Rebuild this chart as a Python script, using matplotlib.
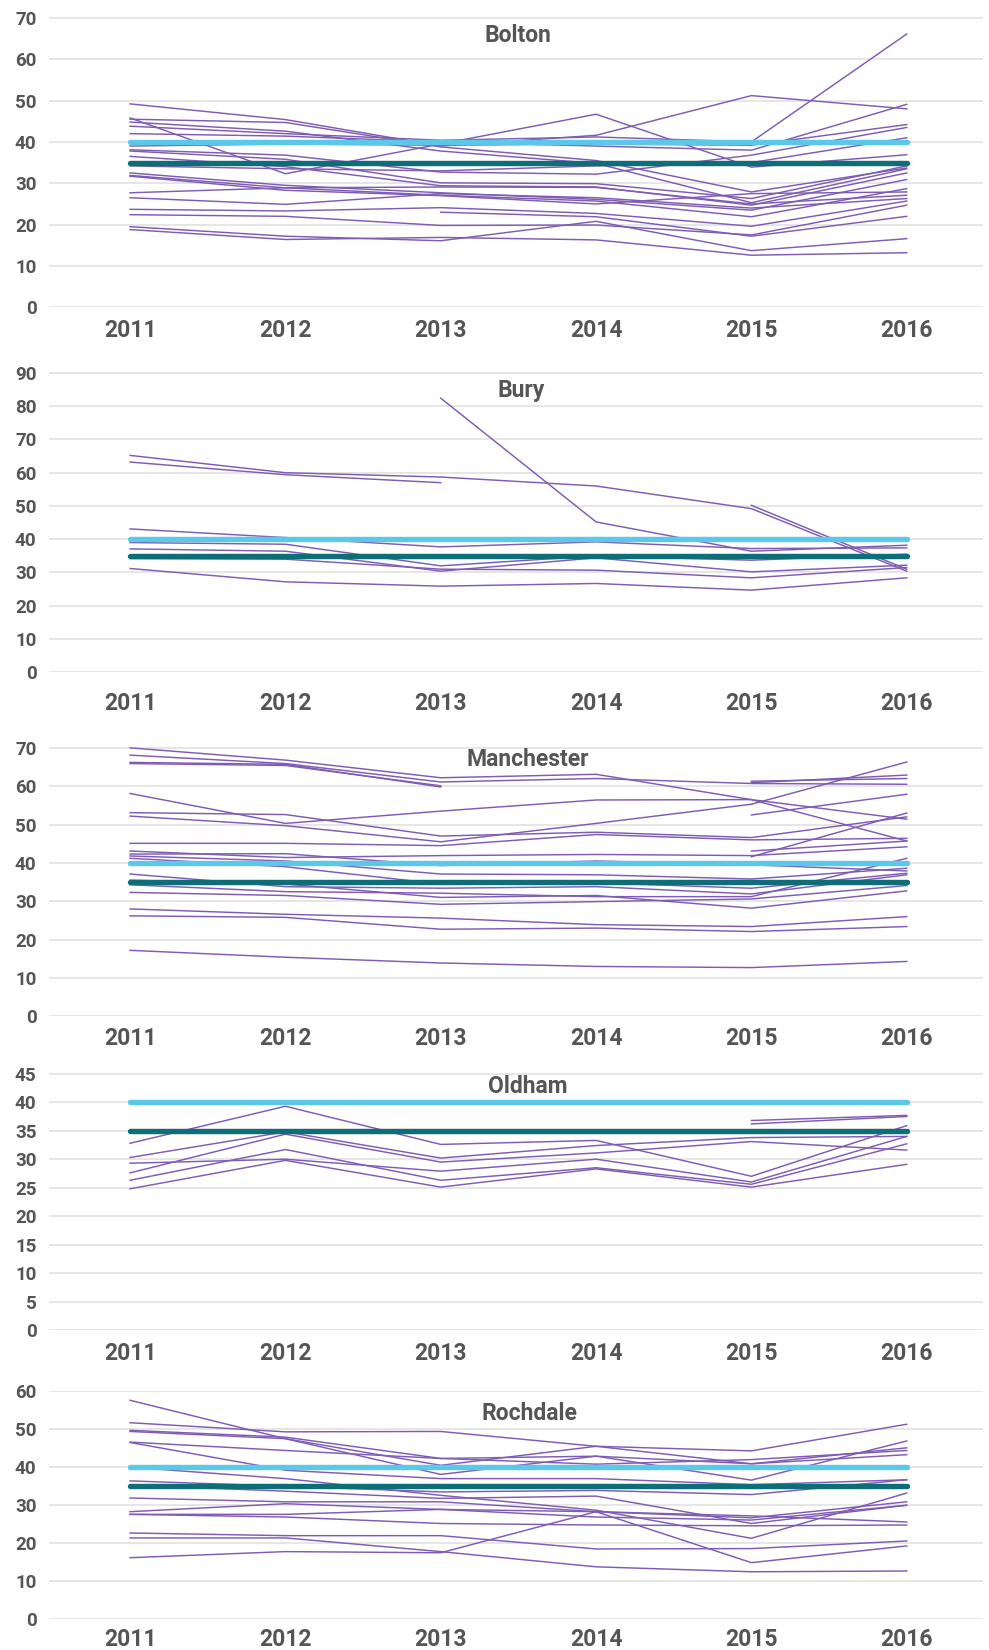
import numpy as np
import matplotlib
matplotlib.use("Agg")
import matplotlib.pyplot as plt

plt.rcParams["font.family"] = ["Roboto", "DejaVu Sans"]
plt.rcParams["font.weight"] = "bold"

nan = np.nan
years = [2011, 2012, 2013, 2014, 2015, 2016]
upper_level = 40
lower_level = 35

bolton = [
    [49.2, 45.4, 39.0, 41.6, 51.2, 48.0],
    [45.8, 32.3, 39.5, 46.7, 33.9, 36.9],
    [45.5, 44.7, 38.8, 35.5, 27.9, 33.7],
    [44.8, 42.6, 37.8, 34.8, 25.3, 33.5],
    [43.8, 42.0, 40.4, 41.2, 40.0, 66.1],
    [42.0, 41.4, 40.0, 39.0, 38.0, 49.1],
    [39.0, 39.5, 39.2, 39.5, 39.2, 44.2],
    [38.1, 36.8, 32.7, 32.2, 36.8, 43.5],
    [37.8, 35.8, 30.1, 29.9, 26.3, 34.2],
    [36.5, 34.0, 29.4, 29.1, 24.7, 32.5],
    [34.2, 33.5, 33.0, 34.2, 35.0, 41.0],
    [32.5, 29.5, 27.7, 26.1, 23.5, 30.9],
    [31.9, 28.9, 27.1, 25.7, 21.9, 28.7],
    [31.7, 28.3, 27.0, 25.0, 27.5, 27.9],
    [27.7, 28.9, 29.1, 29.0, 25.0, 27.1],
    [26.5, 24.9, 27.5, 26.5, 24.0, 26.3],
    [23.7, 23.3, 24.1, 22.7, 19.6, 25.7],
    [22.4, 22.0, 19.8, 19.9, 17.5, 24.7],
    [19.5, 17.2, 16.1, 20.8, 13.7, 16.6],
    [18.8, 16.4, 16.9, 16.3, 12.6, 13.2],
    [nan, nan, 23.0, 21.9, 17.2, 22.0],
]

bury = [
    [65.2, 60.0, 58.7, 56.0, 49.2, 30.4],
    [63.2, 59.4, 57.0, nan, nan, nan],
    [nan, nan, 82.4, 45.2, 36.4, 38.2],
    [nan, nan, nan, nan, 50.2, 31.0],
    [43.1, 40.5, 37.7, 39.2, 37.2, 37.4],
    [39.0, 38.5, 32.0, 35.0, 33.7, 35.5],
    [37.1, 36.4, 30.4, 34.4, 30.2, 32.2],
    [34.2, 34.0, 31.0, 30.7, 28.4, 31.5],
    [31.2, 27.2, 25.9, 26.7, 24.7, 28.4],
]

manchester = [
    [70.0, 66.8, 62.2, 63.1, 56.5, 45.7],
    [68.1, 65.9, 61.1, 62.0, 60.7, 60.5],
    [66.2, 65.7, 59.8, nan, nan, nan],
    [65.9, 65.4, 60.1, nan, nan, nan],
    [nan, nan, nan, nan, 61.3, 62.0],
    [nan, nan, nan, nan, 60.9, 62.9],
    [58.1, 50.3, 53.5, 56.4, 56.5, 51.4],
    [53.1, 52.6, 47.0, 48.0, 46.6, 52.0],
    [52.2, 49.7, 45.5, 50.3, 55.3, 66.3],
    [nan, nan, nan, nan, 52.5, 57.9],
    [45.1, 45.1, 44.5, 47.4, 46.0, 46.4],
    [43.1, 41.4, 41.9, 42.2, 41.9, 44.2],
    [nan, nan, nan, nan, 43.1, 45.7],
    [nan, nan, nan, nan, 41.6, 53.0],
    [42.3, 42.4, 39.3, 40.5, 39.5, 37.9],
    [41.8, 40.5, 37.1, 36.9, 35.8, 38.6],
    [41.2, 39.0, 34.5, 34.8, 33.4, 37.3],
    [37.1, 33.8, 33.4, 33.8, 31.9, 36.9],
    [35.5, 34.5, 31.0, 31.5, 28.2, 32.7],
    [34.3, 32.5, 32.1, 31.2, 31.2, 41.2],
    [32.3, 31.5, 29.2, 29.9, 30.6, 34.1],
    [28.0, 26.6, 25.6, 23.9, 23.4, 26.0],
    [26.2, 25.8, 22.7, 23.0, 22.1, 23.4],
    [17.2, 15.4, 13.9, 13.0, 12.7, 14.3],
]

oldham = [
    [32.8, 39.3, 32.6, 33.3, 27.0, 35.9],
    [30.3, 34.8, 30.2, 32.4, 33.8, 34.0],
    [27.6, 34.4, 29.5, 31.1, 33.1, 31.6],
    [29.3, 30.0, 27.9, 30.0, 26.0, 34.0],
    [26.3, 31.7, 26.3, 28.5, 25.6, 32.7],
    [24.8, 29.8, 25.1, 28.3, 25.1, 29.1],
    [nan, nan, nan, nan, 36.8, 37.7],
    [nan, nan, nan, nan, 36.2, 37.5],
]

rochdale = [
    [57.6, 47.5, 38.1, 42.9, 40.9, 45.1],
    [51.7, 49.3, 49.4, 45.5, 44.3, 51.3],
    [49.7, 47.9, 42.3, 40.8, 42.0, 44.4],
    [49.4, 47.5, 40.5, 45.5, 40.9, 43.3],
    [46.6, 44.4, 42.3, 42.9, 36.6, 46.9],
    [46.5, 39.2, 37.0, 37.0, 35.4, 36.7],
    [40.0, 37.0, 32.6, 28.7, 21.3, 33.2],
    [36.4, 35.0, 33.5, 33.9, 32.8, 36.7],
    [35.3, 33.7, 31.8, 32.4, 25.2, 30.0],
    [31.9, 30.9, 30.9, 28.3, 26.7, 30.9],
    [28.3, 30.4, 28.9, 26.9, 26.1, 30.0],
    [27.6, 27.6, 28.9, 28.3, 27.2, 25.6],
    [27.6, 26.9, 25.2, 24.8, 24.6, 24.8],
    [16.2, 17.8, 17.5, 28.3, 14.9, 19.3],
    [22.7, 22.0, 22.0, 18.5, 18.6, 20.6],
    [21.4, 21.4, 17.8, 13.8, 12.5, 12.7],
]

districts = ["Bolton", "Bury", "Manchester", "Oldham", "Rochdale"]
district_series = [bolton, bury, manchester, oldham, rochdale]
y_max = [70, 90, 70, 45, 60]
y_step = [10, 10, 10, 5, 10]

# panel frames in pixels (top, bottom), title spots in data units, year label padding
frames = [(17.3, 307.3), (372.3, 672.3), (747.3, 1016.3), (1073.3, 1330.0), (1390.7, 1619.3)]
title_at = [(2013.50, 65.7), (2013.52, 84.7), (2013.56, 67.0), (2013.56, 42.8), (2013.57, 54.2)]
year_pad = [8.5, 14.5, 8, 9, 6.5]

PURPLE = "#7f5bb4"
LIGHT_BLUE = "#5bc8ea"
TEAL = "#0e6e78"
TEXT = "#555555"
GRID = "#e2e2e2"

W, H = 989, 1650
fig = plt.figure(figsize=(W / 100, H / 100), dpi=100)

for name, series, top_val, step, (top, bottom), (tx, ty), pad in zip(
        districts, district_series, y_max, y_step, frames, title_at, year_pad):
    ax = fig.add_axes([49 / W, 1 - bottom / H, 934 / W, (bottom - top) / H])

    for values in series:
        ax.plot(years, values, color=PURPLE, lw=1.05, zorder=2)
    ax.plot(years, [upper_level] * len(years), color=LIGHT_BLUE, lw=3.9,
            solid_capstyle="round", zorder=3)
    ax.plot(years, [lower_level] * len(years), color=TEAL, lw=3.9,
            solid_capstyle="round", zorder=3)

    ax.set_xlim(2010.478, 2016.491)
    ax.set_ylim(0, top_val * 1.002)
    ax.set_xticks(years)
    ax.set_yticks(np.arange(0, top_val + 1, step))
    ax.grid(axis="y", color=GRID, lw=1.2)
    ax.set_axisbelow(True)
    for sp in ax.spines.values():
        sp.set_visible(False)
    ax.tick_params(length=0, colors=TEXT)
    ax.tick_params(axis="y", labelsize=13.5, pad=9)
    ax.tick_params(axis="x", labelsize=16.5, pad=pad)
    for lab in ax.get_xticklabels() + ax.get_yticklabels():
        lab.set_fontweight("bold")

    ax.text(tx, ty, name, ha="center", va="center", fontsize=16.5,
            fontweight="bold", color=TEXT, zorder=5)

fig.savefig("out.png", dpi=100)
